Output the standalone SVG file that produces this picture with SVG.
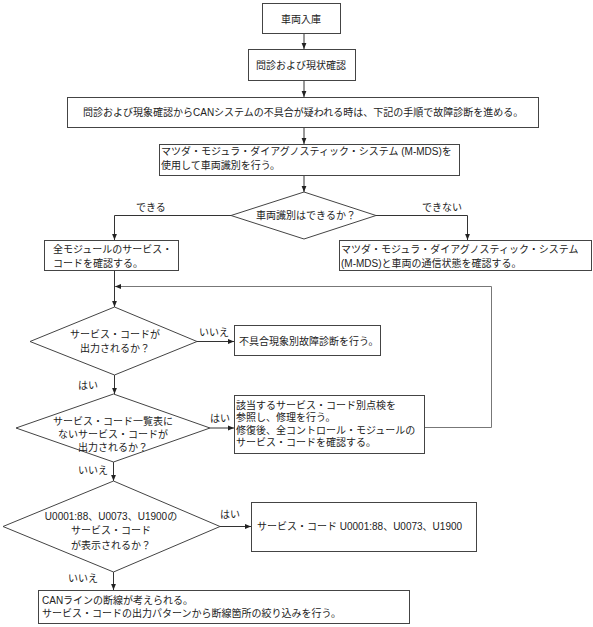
<svg xmlns="http://www.w3.org/2000/svg" width="593" height="627" viewBox="0 0 593 627">
<style>
  text { font-family: "Liberation Sans", "Noto Sans CJK JP", sans-serif; font-size: 10px; fill: #222; }
  .box { fill: #fff; stroke: #444; stroke-width: 1; }
  .shadow { fill: none; stroke: #aaa; stroke-width: 1; }
  .dia { fill: #fff; stroke: #444; stroke-width: 1; }
  .c { text-anchor: middle; }
  .conn path { fill: none; stroke: #333; stroke-width: 1; marker-end: url(#arr); }
  .conn path.loop { stroke: #777; }
</style>
<defs>
  <marker id="arr" markerWidth="6" markerHeight="6" refX="6" refY="3" orient="auto" markerUnits="userSpaceOnUse">
    <path d="M0,0.6 L6,3 L0,5.4 z" fill="#222"/>
  </marker>
</defs>
<rect width="593" height="627" fill="#fff"/>

<g id="connectors" class="conn">
  <path d="M304,34 V49"/>
  <path d="M304,81 V97"/>
  <path d="M304,128 V144"/>
  <path d="M304,176 V192"/>
  <path d="M231,215.5 H114.5 V240"/>
  <path d="M376,215.5 H467.5 V240"/>
  <path d="M114.5,271 V307"/>
  <path class="loop" d="M425,427.5 H491.5 V286.5 H115"/>
  <path d="M197,341.5 H234"/>
  <path d="M114.5,375 V394"/>
  <path d="M210,428 H234"/>
  <path d="M113.5,462 V481"/>
  <path d="M220,526.5 H251"/>
  <path d="M113.5,572 V590"/>
</g>

<g id="n1">
  <rect class="box" x="262.5" y="3.5" width="78" height="30"/>
  <text class="c" x="301" y="22.5">車両入庫</text>
</g>
<g id="n2">
  <rect class="box" x="248.5" y="49.5" width="107" height="31"/>
  <text x="256" y="68.5">問診および現状確認</text>
</g>
<g id="n3">
  <rect class="box" x="67.5" y="97.5" width="471" height="30"/>
  <text x="83" y="115.5">問診および現象確認からCANシステムの不具合が疑われる時は、下記の手順で故障診断を進める。</text>
</g>
<g id="n4">
  <rect class="box" x="159.5" y="144.5" width="300" height="31"/>
  <text x="161" y="155">マツダ・モジュラ・ダイアグノスティック・システム (M-MDS)を</text>
  <text x="161" y="169">使用して車両識別を行う。</text>
</g>
<g id="d1">
  <polygon class="dia" points="304,192 376,215.5 304,239 231,215.5"/>
  <text class="c" x="306" y="219">車両識別はできるか？</text>
</g>
<g id="l1"><text x="136" y="211">できる</text></g>
<g id="l2"><text x="422" y="211">できない</text></g>
<g id="n5">
  <rect class="box" x="44.5" y="240.5" width="134" height="30"/>
  <text x="53" y="253">全モジュールのサービス・</text>
  <text x="53" y="267">コードを確認する。</text>
</g>
<g id="n6">
  <rect class="box" x="339.5" y="240.5" width="252" height="30"/>
  <text x="341" y="253">マツダ・モジュラ・ダイアグノスティック・システム</text>
  <text x="341" y="267">(M-MDS)と車両の通信状態を確認する。</text>
</g>
<g id="d2">
  <polygon class="dia" points="114.5,307 197,341.5 114.5,375 30,341.5"/>
  <text class="c" x="115" y="337.5">サービス・コードが</text>
  <text class="c" x="115" y="351.5">出力されるか？</text>
</g>
<g id="l3"><text x="199" y="336">いいえ</text></g>
<g id="n7">
  <rect class="box" x="234.5" y="325.5" width="146" height="30"/>
  <text x="239" y="344.5">不具合現象別故障診断を行う。</text>
</g>
<g id="l4"><text x="78" y="389">はい</text></g>
<g id="d3">
  <polygon class="dia" points="113.5,394 210,428 113.5,462 16,428"/>
  <text class="c" x="113" y="424.5">サービス・コード一覧表に</text>
  <text class="c" x="113" y="437.5">ないサービス・コードが</text>
  <text class="c" x="113" y="450.5">出力されるか？</text>
</g>
<g id="l5"><text x="210" y="422">はい</text></g>
<g id="n8">
  <rect class="box" x="234.5" y="395.5" width="190" height="58"/>
  <text x="236" y="408.5">該当するサービス・コード別点検を</text>
  <text x="236" y="421">参照し、修理を行う。</text>
  <text x="236" y="433.5">修復後、全コントロール・モジュールの</text>
  <text x="236" y="446">サービス・コードを確認する。</text>
</g>
<g id="l6"><text x="78" y="473.5">いいえ</text></g>
<g id="d4">
  <polygon class="dia" points="113.5,481 220,526.5 113.5,572 3,526.5"/>
  <text class="c" x="111" y="519.5">U0001:88、U0073、U1900の</text>
  <text class="c" x="111" y="534">サービス・コード</text>
  <text class="c" x="111" y="548.5">が表示されるか？</text>
</g>
<g id="l7"><text x="220" y="517.5">はい</text></g>
<g id="n9">
  <rect class="box" x="251.5" y="502.5" width="225" height="49"/>
  <text x="257" y="529.5">サービス・コード U0001:88、U0073、U1900</text>
</g>
<g id="l8"><text x="68" y="581.5">いいえ</text></g>
<g id="n10">
  <rect class="box" x="38.5" y="590.5" width="371" height="33"/>
  <text x="42" y="603.5">CANラインの断線が考えられる。</text>
  <text x="42" y="617">サービス・コードの出力パターンから断線箇所の絞り込みを行う。</text>
</g>
</svg>
